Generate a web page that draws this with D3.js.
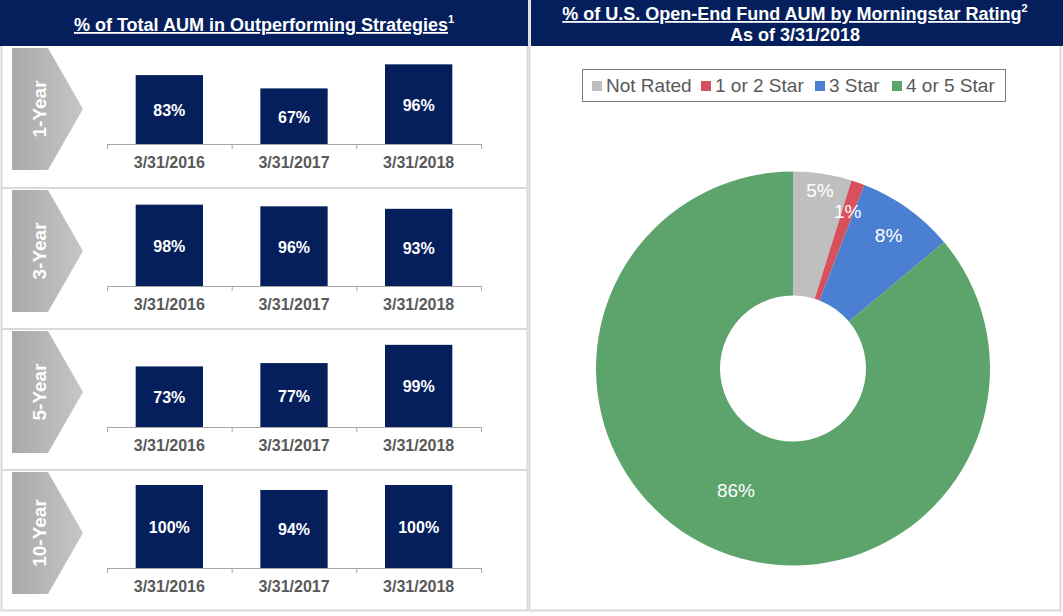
<!DOCTYPE html>
<html>
<head>
<meta charset="utf-8">
<script src="https://cdn.jsdelivr.net/npm/d3@7"></script>
<style>
  body { margin: 0; background: #fff; }
  svg { display: block; font-family: "Liberation Sans", Arial, sans-serif; }
</style>
</head>
<body>
<svg id="chart" width="1063" height="616"></svg>
<script>
// data
const periods = ['1-Year', '3-Year', '5-Year', '10-Year'];
const dates = ['3/31/2016', '3/31/2017', '3/31/2018'];
const oneYear = [83, 67, 96];
const threeYear = [98, 96, 93];
const fiveYear = [73, 77, 99];
const tenYear = [100, 94, 100];
const periodValues = [oneYear, threeYear, fiveYear, tenYear];

const ratingLabels = ['Not Rated', '1 or 2 Star', '3 Star', '4 or 5 Star'];
const ratingShares = [4.8, 1.1, 8.0, 86.1];
const ratingShown = ['5%', '1%', '8%', '86%'];
const ratingColors = ['#bfbfbf', '#d6515c', '#4a7fd1', '#5ca46b'];

const navy = '#051f5d';
const svg = d3.select('#chart');

// gradient for chevrons
const grad = svg.append('defs').append('linearGradient')
    .attr('id', 'chev').attr('x1', '0%').attr('x2', '100%');
grad.append('stop').attr('offset', '0%').attr('stop-color', '#a9a9a9');
grad.append('stop').attr('offset', '100%').attr('stop-color', '#c6c6c6');

// frames
const border = '#d9d9d9';
svg.append('rect').attr('x', 1.5).attr('y', 0.5).attr('width', 526).attr('height', 610)
    .attr('fill', 'none').attr('stroke', border).attr('stroke-width', 2);
svg.append('rect').attr('x', 529.5).attr('y', 0.5).attr('width', 531).attr('height', 610)
    .attr('fill', 'none').attr('stroke', border).attr('stroke-width', 2);

// headers
svg.append('rect').attr('x', 0).attr('y', 0).attr('width', 528).attr('height', 46).attr('fill', navy);
svg.append('rect').attr('x', 531).attr('y', 0).attr('width', 532).attr('height', 46).attr('fill', navy);

const t1 = svg.append('text').attr('x', 264).attr('y', 31)
    .attr('text-anchor', 'middle').attr('fill', '#fff')
    .attr('font-weight', 'bold').attr('font-size', 18);
t1.append('tspan').attr('text-decoration', 'underline').text('% of Total AUM in Outperforming Strategies');
t1.append('tspan').attr('font-size', 11).attr('dy', -8).text('1');

const t2 = svg.append('text').attr('x', 795).attr('y', 20)
    .attr('text-anchor', 'middle').attr('fill', '#fff')
    .attr('font-weight', 'bold').attr('font-size', 18);
t2.append('tspan').attr('text-decoration', 'underline').text('% of U.S. Open-End Fund AUM by Morningstar Rating');
t2.append('tspan').attr('font-size', 11).attr('dy', -8).text('2');
svg.append('text').attr('x', 795).attr('y', 41)
    .attr('text-anchor', 'middle').attr('fill', '#fff')
    .attr('font-weight', 'bold').attr('font-size', 18).text('As of 3/31/2018');

// bar panels
const panelTop = [46, 188, 329, 470];
const x = d3.scaleBand().domain(dates).range([107, 481]).paddingInner(0.46).paddingOuter(0.23);
const edges = d3.scaleLinear().domain([0, dates.length]).range([107, 481]);

periods.forEach((p, i) => {
  const top = panelTop[i];
  const base = top + 98;
  const y = d3.scaleLinear().domain([0, 100]).range([base, base - 83]);
  const g = svg.append('g');

  if (i > 0) {
    g.append('line').attr('x1', 2).attr('x2', 527).attr('y1', top).attr('y2', top)
      .attr('stroke', border).attr('stroke-width', 2);
  }

  const c0 = top + 2, c1 = top + 124, mid = (c0 + c1) / 2;
  g.append('path')
    .attr('d', `M12,${c0}L48,${c0}L83,${mid}L48,${c1}L12,${c1}Z`)
    .attr('fill', 'url(#chev)');
  g.append('text')
    .attr('transform', `translate(39,${mid}) rotate(-90)`)
    .attr('text-anchor', 'middle').attr('dominant-baseline', 'central')
    .attr('fill', '#fff').attr('font-weight', 'bold').attr('font-size', 19)
    .text(p);

  const vals = periodValues[i];
  g.selectAll('rect.bar').data(vals).join('rect')
    .attr('class', 'bar')
    .attr('x', (d, j) => x(dates[j]))
    .attr('width', x.bandwidth())
    .attr('y', d => y(d))
    .attr('height', d => base - y(d))
    .attr('fill', navy);

  g.selectAll('text.val').data(vals).join('text')
    .attr('class', 'val')
    .attr('x', (d, j) => x(dates[j]) + x.bandwidth() / 2)
    .attr('y', d => (y(d) + base) / 2 + 1)
    .attr('text-anchor', 'middle').attr('dominant-baseline', 'central')
    .attr('fill', '#fff').attr('font-weight', 'bold').attr('font-size', 16)
    .text(d => d + '%');

  // axis line with category boundary ticks
  const ax = g.append('g').attr('transform', `translate(0,${base})`)
    .call(d3.axisBottom(edges).tickValues(d3.range(dates.length + 1)).tickFormat('').tickSizeOuter(0).tickSize(5));
  ax.selectAll('path, line').attr('stroke', '#a6a6a6');

  const lab = g.append('g').attr('transform', `translate(0,${base})`)
    .call(d3.axisBottom(x).tickSize(0).tickPadding(13));
  lab.select('.domain').remove();
  lab.selectAll('text')
    .attr('fill', '#595959').attr('font-weight', 'bold').attr('font-size', 16)
    .attr('font-family', '"Liberation Sans", Arial, sans-serif');
});

// legend
const legendX = [592, 701, 815, 892];
svg.append('rect').attr('x', 582.5).attr('y', 69.5).attr('width', 423).attr('height', 32)
  .attr('fill', '#fff').attr('stroke', '#7f7f7f');
const leg = svg.append('g').selectAll('g').data(ratingLabels).join('g')
  .attr('transform', (d, i) => `translate(${legendX[i]},81)`);
leg.append('rect').attr('width', 10).attr('height', 10).attr('fill', (d, i) => ratingColors[i]);
leg.append('text').attr('x', 14).attr('y', 11).attr('fill', '#595959').attr('font-size', 19).text(d => d);

// doughnut
const cx = 793, cy = 368.5, R = 197, r0 = 73;
const labelRadius = [180, 166, 164, 135];
const pie = d3.pie().sort(null).value(d => d);
const arcs = pie(ratingShares);
const arc = d3.arc().innerRadius(r0).outerRadius(R);
const dg = svg.append('g').attr('transform', `translate(${cx},${cy})`);
dg.selectAll('path').data(arcs).join('path')
  .attr('d', arc).attr('fill', (d, i) => ratingColors[i]);
dg.selectAll('text').data(arcs).join('text')
  .attr('transform', (d, i) => {
    const a = (d.startAngle + d.endAngle) / 2;
    const lr = labelRadius[i];
    return `translate(${lr * Math.sin(a)},${-lr * Math.cos(a)})`;
  })
  .attr('text-anchor', 'middle').attr('dominant-baseline', 'central')
  .attr('fill', '#fff').attr('font-size', 19)
  .text((d, i) => ratingShown[i]);
</script>
</body>
</html>
